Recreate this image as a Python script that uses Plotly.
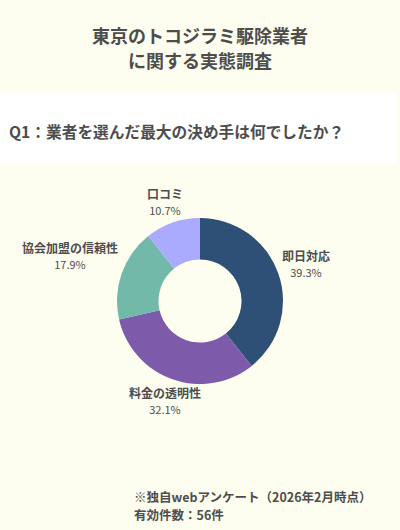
import math
import plotly.graph_objects as go

# アンケート結果（有効件数56件）
labels = ['即日対応', '料金の透明性', '協会加盟の信頼性', '口コミ']
counts = [22, 18, 10, 6]
colors = ['#2e5077', '#7e5aab', '#72b9a9', '#aaaaff']

title_lines = ['東京のトコジラミ駆除業者', 'に関する実態調査']
question = 'Q1：業者を選んだ最大の決め手は何でしたか？'
notes = ['※独自webアンケート（2026年2月時点）', '有効件数：56件']

font_jp = 'Noto Sans CJK JP'
text_color = '#4d4d4d'
W, H = 400, 530

# donut geometry in pixels
cx, cy, r = 200, 301, 83

fig = go.Figure(data=go.Pie(
    labels=labels,
    values=counts,
    marker=dict(colors=colors, line=dict(width=0)),
    hole=0.5,
    sort=False,
    direction='clockwise',
    rotation=0,
    textposition='none',
    automargin=False,
    domain=dict(x=[(cx - r) / W, (cx + r) / W], y=[1 - (cy + r) / H, 1 - (cy - r) / H]),
    showlegend=False,
    hoverinfo='skip',
))


def note(text, x, y, size, xanchor='left'):
    return dict(
        x=x, y=y, xref='paper', yref='paper',
        xanchor=xanchor, yanchor='middle',
        text='<b>' + text + '</b>',
        font=dict(family=font_jp, size=size, color=text_color),
        showarrow=False,
    )


# slice labels outside the ring, along each slice's middle angle
total = sum(counts)
label_notes = []
cum = 0
for name, v in zip(labels, counts):
    ang = 2 * math.pi * (cum + v / 2) / total
    cum += v
    vx, vy = math.sin(ang), -math.cos(ang)
    w, h = len(name) * 12, 35
    t = min(w / 2 / abs(vx) if abs(vx) > 1e-6 else 1e9,
            h / 2 / abs(vy) if abs(vy) > 1e-6 else 1e9)
    d = r + 4 + t
    px, py = cx + vx * d, cy + vy * d
    label_notes.append(dict(
        x=px / W, y=1 - py / H, xref='paper', yref='paper',
        xanchor='center', yanchor='middle', align='center',
        text='<b>%s</b><br><span style="font-size:11px">%.1f%%</span>' % (name, 100 * v / total),
        font=dict(family=font_jp, size=12, color=text_color),
        showarrow=False,
    ))

fig.update_layout(
    width=W,
    height=H,
    autosize=False,
    paper_bgcolor='#fefef0',
    plot_bgcolor='#fefef0',
    margin=dict(l=0, r=0, t=0, b=0, pad=0),
    shapes=[dict(
        type='rect',
        xref='paper', yref='paper',
        x0=0, x1=397 / W,
        y0=1 - 163 / H, y1=1 - 93 / H,
        fillcolor='white',
        line=dict(width=0),
        layer='below',
    )],
    annotations=[
        note(title_lines[0], 0.5, 1 - 35 / H, 18, 'center'),
        note(title_lines[1], 0.5, 1 - 60 / H, 18, 'center'),
        note(question, 7 / W, 1 - 131 / H, 15.7),
        note(notes[0], 132 / W, 1 - 496 / H, 12.5),
        note(notes[1], 132 / W, 1 - 514 / H, 12.5),
    ] + label_notes,
)

fig.write_html('out.html', config={'displayModeBar': False},
               post_script="document.body.style.margin='0';")
